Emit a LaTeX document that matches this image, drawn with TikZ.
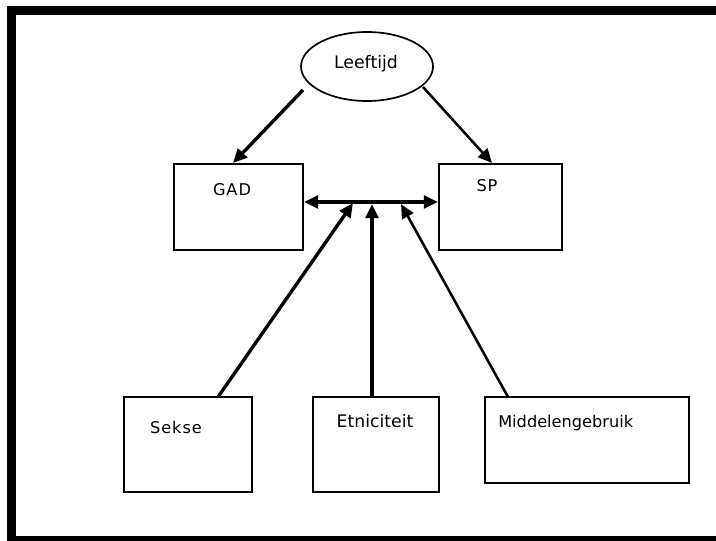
\documentclass[tikz,border=0pt]{standalone}
\usepackage{fontspec}
\setmainfont{DejaVu Sans}
\newfontfamily\spacedfont[LetterSpace=6]{DejaVu Sans}
\usetikzlibrary{shapes.geometric,arrows.meta,calc}
\begin{document}
\begin{tikzpicture}[x=0.025cm,y=-0.025cm,
  box/.style={draw,line width=1.4pt,rectangle,inner sep=0pt},
  lbl/.style={inner sep=0pt,font=\spacedfont\fontsize{11.5}{13}\selectfont},
  lblm/.style={inner sep=0pt,font=\fontsize{11.5}{13}\selectfont},
  lblb/.style={inner sep=0pt,font=\fontsize{12.3}{14}\selectfont},
  tip/.style={-{Triangle[length=10pt,width=9pt]}},
  conn/.style={line width=2.4pt,tip},
  connthin/.style={line width=1.8pt,tip}]
\useasboundingbox (0,0) rectangle (716,540);
\fill[white] (0,0) rectangle (716,540);
% outer frame
\draw[line width=6.4pt] (11,10) rectangle (740,540);
% nodes
\node[draw,ellipse,line width=1.2pt,minimum width=132*0.025cm,minimum height=69*0.025cm,inner sep=0pt] (leef) at (367,66.5) {};
\node[lblb] (leeft) at (366,64) {Leeftijd};
\node[box,minimum width=129*0.025cm,minimum height=86*0.025cm] (gad) at (238.5,207) {};
\node[lbl] (gadt) at (232,190) {GAD};
\node[box,minimum width=123*0.025cm,minimum height=86*0.025cm] (sp) at (500.5,207) {};
\node[lbl] (spt) at (487,186) {SP};
\node[box,minimum width=128*0.025cm,minimum height=95*0.025cm] (sekse) at (188,444.5) {};
\node[lbl] (sekset) at (176,427) {Sekse};
\node[box,minimum width=126*0.025cm,minimum height=95*0.025cm] (etn) at (376,444.5) {};
\node[lblb] (etnt) at (375,421) {Etniciteit};
\node[box,minimum width=204*0.025cm,minimum height=86*0.025cm] (mid) at (587,440) {};
\node[lblm,anchor=west] (midt) at (498,423) {Middelengebruik};
% coordinates
\coordinate (hl) at (370,202);
\coordinate (lstart) at (303,90);
\coordinate (rstart) at (423,87);
\coordinate (ltip) at (233,163);
\coordinate (rtip) at (492,163);
\coordinate (sbot) at (218,397);
\coordinate (stip) at (353,203);
\coordinate (ebot) at (372,397);
\coordinate (etip) at (372,204);
\coordinate (mbot) at (508,397);
\coordinate (mtip) at (401,204);
% connectors
\draw[conn] (lstart) -- (ltip);
\draw[connthin] (rstart) -- (rtip);
\draw[line width=2.4pt,{Triangle[length=10pt,width=9pt]}-{Triangle[length=10pt,width=9pt]}] (hl -| gad.east) -- (hl -| sp.west);
\draw[conn] (sbot) -- (stip);
\draw[conn] (ebot) -- (etip);
\draw[connthin] (mbot) -- (mtip);
\end{tikzpicture}
\end{document}
